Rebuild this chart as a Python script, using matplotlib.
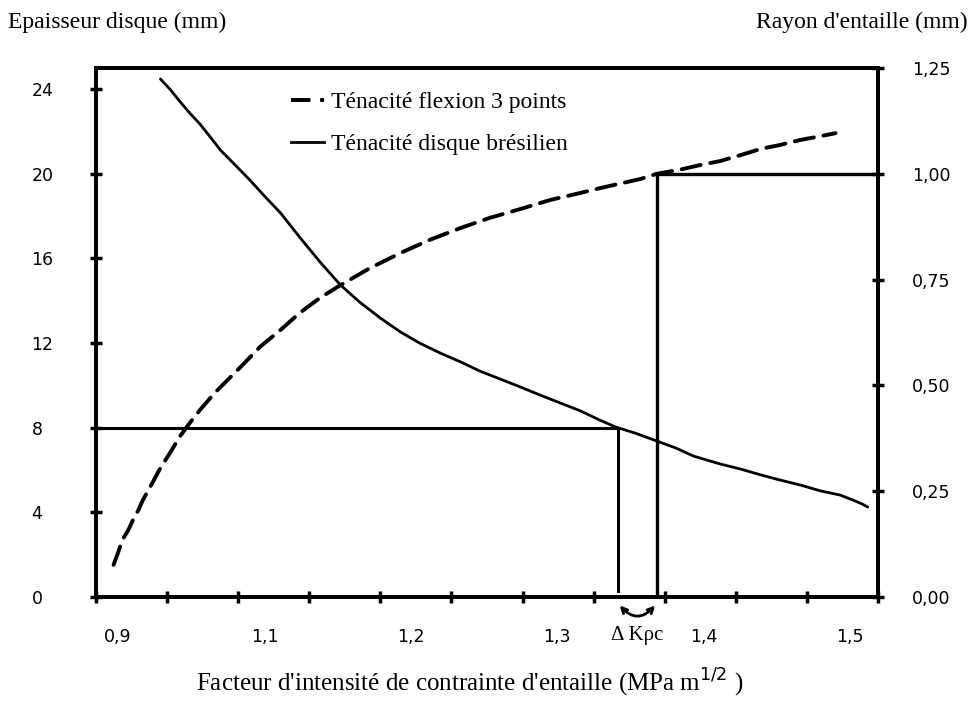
import numpy as np
import matplotlib
matplotlib.use('Agg')
import matplotlib.pyplot as plt
from matplotlib.lines import Line2D
from matplotlib.patches import FancyArrowPatch

# %%
# facteur d'intensite K (MPa m^1/2) -> epaisseur disque (mm), essai disque bresilien
k_disque = [1.029, 1.036, 1.042, 1.049, 1.056, 1.063, 1.070, 1.080, 1.090, 1.100,
            1.111, 1.124, 1.138, 1.152, 1.165, 1.179, 1.193, 1.206, 1.220, 1.234,
            1.247, 1.261, 1.275, 1.288, 1.302, 1.316, 1.329, 1.340, 1.353, 1.368,
            1.381, 1.393, 1.411, 1.425, 1.439, 1.452, 1.466, 1.480, 1.493, 1.502,
            1.508, 1.512]
epaisseur = [24.48, 23.96, 23.44, 22.87, 22.35, 21.74, 21.12, 20.42, 19.71, 18.95,
             18.15, 17.01, 15.83, 14.74, 13.94, 13.19, 12.52, 12.00, 11.53, 11.11,
             10.68, 10.30, 9.92, 9.55, 9.17, 8.79, 8.36, 8.03, 7.75, 7.37,
             7.04, 6.66, 6.29, 6.05, 5.77, 5.53, 5.29, 5.01, 4.82, 4.58,
             4.40, 4.25]

# facteur d'intensite K -> rayon d'entaille (mm), flexion 3 points
k_flexion = [0.997, 1.000, 1.003, 1.007, 1.010, 1.014, 1.017, 1.022, 1.029, 1.036,
             1.042, 1.049, 1.056, 1.066, 1.077, 1.087, 1.097, 1.111, 1.124, 1.138,
             1.152, 1.172, 1.193, 1.213, 1.234, 1.254, 1.275, 1.295, 1.316, 1.329,
             1.343, 1.357, 1.368, 1.384, 1.398, 1.411, 1.425, 1.439, 1.452, 1.466,
             1.480, 1.490]
rayon = [0.076, 0.104, 0.135, 0.158, 0.180, 0.206, 0.229, 0.260, 0.305, 0.343,
         0.378, 0.411, 0.442, 0.482, 0.520, 0.555, 0.591, 0.631, 0.671, 0.707,
         0.737, 0.777, 0.813, 0.844, 0.872, 0.896, 0.917, 0.938, 0.955, 0.966,
         0.977, 0.988, 1.000, 1.010, 1.021, 1.030, 1.044, 1.059, 1.068, 1.080,
         1.089, 1.096]

left_ticks = [0, 4, 8, 12, 16, 20, 24]
left_labels = ['0', '4', '8', '12', '16', '20', '24']
right_ticks = [0.0, 0.25, 0.50, 0.75, 1.00, 1.25]
right_labels = ['0,00', '0,25', '0,50', '0,75', '1,00', '1,25']
x_label_pos = [1.0, 1.1, 1.2, 1.3, 1.4, 1.5]
x_labels = ['0,9', '1,1', '1,2', '1,3', '1,4', '1,5']

EPAISSEUR_LU = 8
RAYON_LU = 1.0

# %%
plt.rcParams['lines.scale_dashes'] = False
serif = 'Liberation Serif'
sans = 'DejaVu Sans'

fig = plt.figure(figsize=(9.76, 7.03), dpi=100)
ax = fig.add_axes([96/976, 106/703, 782/976, 529/703])
ax2 = ax.twinx()

x_lo, x_hi = 0.985, 1.519
ax.set_xlim(x_lo, x_hi)
ax.set_ylim(0, 25)
ax2.set_ylim(0, 1.25)

ax.plot(k_disque, epaisseur, color='black', lw=2.0, solid_capstyle='round',
        solid_joinstyle='round')
ax2.plot(k_flexion, rayon, color='black', lw=2.8, dashes=(14, 7),
         dash_capstyle='round')

# lecture des deux valeurs de K
k_a = np.interp(EPAISSEUR_LU, epaisseur[::-1], k_disque[::-1])
k_b = np.interp(RAYON_LU, rayon, k_flexion)
ax.plot([x_lo, k_a], [EPAISSEUR_LU, EPAISSEUR_LU], color='black', lw=2.2)
ax.plot([k_a, k_a], [EPAISSEUR_LU, 0.3], color='black', lw=2.2)
ax2.plot([k_b, k_b], [RAYON_LU, 0], color='black', lw=2.4)
ax2.plot([k_b, x_hi], [RAYON_LU, RAYON_LU], color='black', lw=2.4)

arrow = FancyArrowPatch((k_a, -0.3), (k_b, -0.3), connectionstyle='arc3,rad=0.6',
                        arrowstyle='<->', mutation_scale=10, lw=2.0, color='black',
                        clip_on=False)
ax.add_patch(arrow)
ax.text((k_a + k_b) / 2, -1.8, '\u0394 K\u03c1c', ha='center', va='center',
        fontsize=15, family=serif, clip_on=False)

# axes
for a in (ax, ax2):
    for s in a.spines.values():
        s.set_linewidth(2.8)

ax.set_xticks(x_label_pos)
ax.set_xticklabels(x_labels)
ax.set_xticks(np.linspace(x_lo, x_hi, 12), minor=True)
ax.tick_params(axis='x', which='major', length=0, pad=22, labelsize=12.5)
ax.tick_params(axis='x', which='minor', direction='inout', length=9, width=2.5)

ax.set_yticks(left_ticks)
ax.set_yticklabels(left_labels)
ax.tick_params(axis='y', direction='inout', length=9, width=2.5, pad=42, labelsize=12.5)
for lbl in ax.get_yticklabels():
    lbl.set_horizontalalignment('left')

ax2.set_yticks(right_ticks)
ax2.set_yticklabels(right_labels)
ax2.tick_params(axis='y', direction='inout', length=9, width=2.5, pad=20, labelsize=12.5)

for lbl in ax.get_xticklabels() + ax.get_yticklabels() + ax2.get_yticklabels():
    lbl.set_family(sans)

# legende
handles = [Line2D([], [], color='black', lw=2.8, dashes=(14, 7)),
           Line2D([], [], color='black', lw=2.0)]
ax.legend(handles, ['Ténacité flexion 3 points', 'Ténacité disque brésilien'],
          loc='upper left', bbox_to_anchor=(0.222, 0.995), frameon=False,
          prop={'family': serif, 'size': 17}, handlelength=1.4,
          handletextpad=0.3, labelspacing=0.85)

fig.text(8/976, 1 - 22/703, 'Epaisseur disque (mm)', ha='left', va='center',
         fontsize=17, family=serif)
fig.text(968/976, 1 - 22/703, "Rayon d'entaille (mm)", ha='right', va='center',
         fontsize=17, family=serif)
fig.text(470/976, 1 - 683/703,
         "Facteur d'intensité de contrainte d'entaille (MPa m$^{1/2}$ )",
         ha='center', va='center', fontsize=18, family=serif)

fig.savefig('out.png', dpi=100)
